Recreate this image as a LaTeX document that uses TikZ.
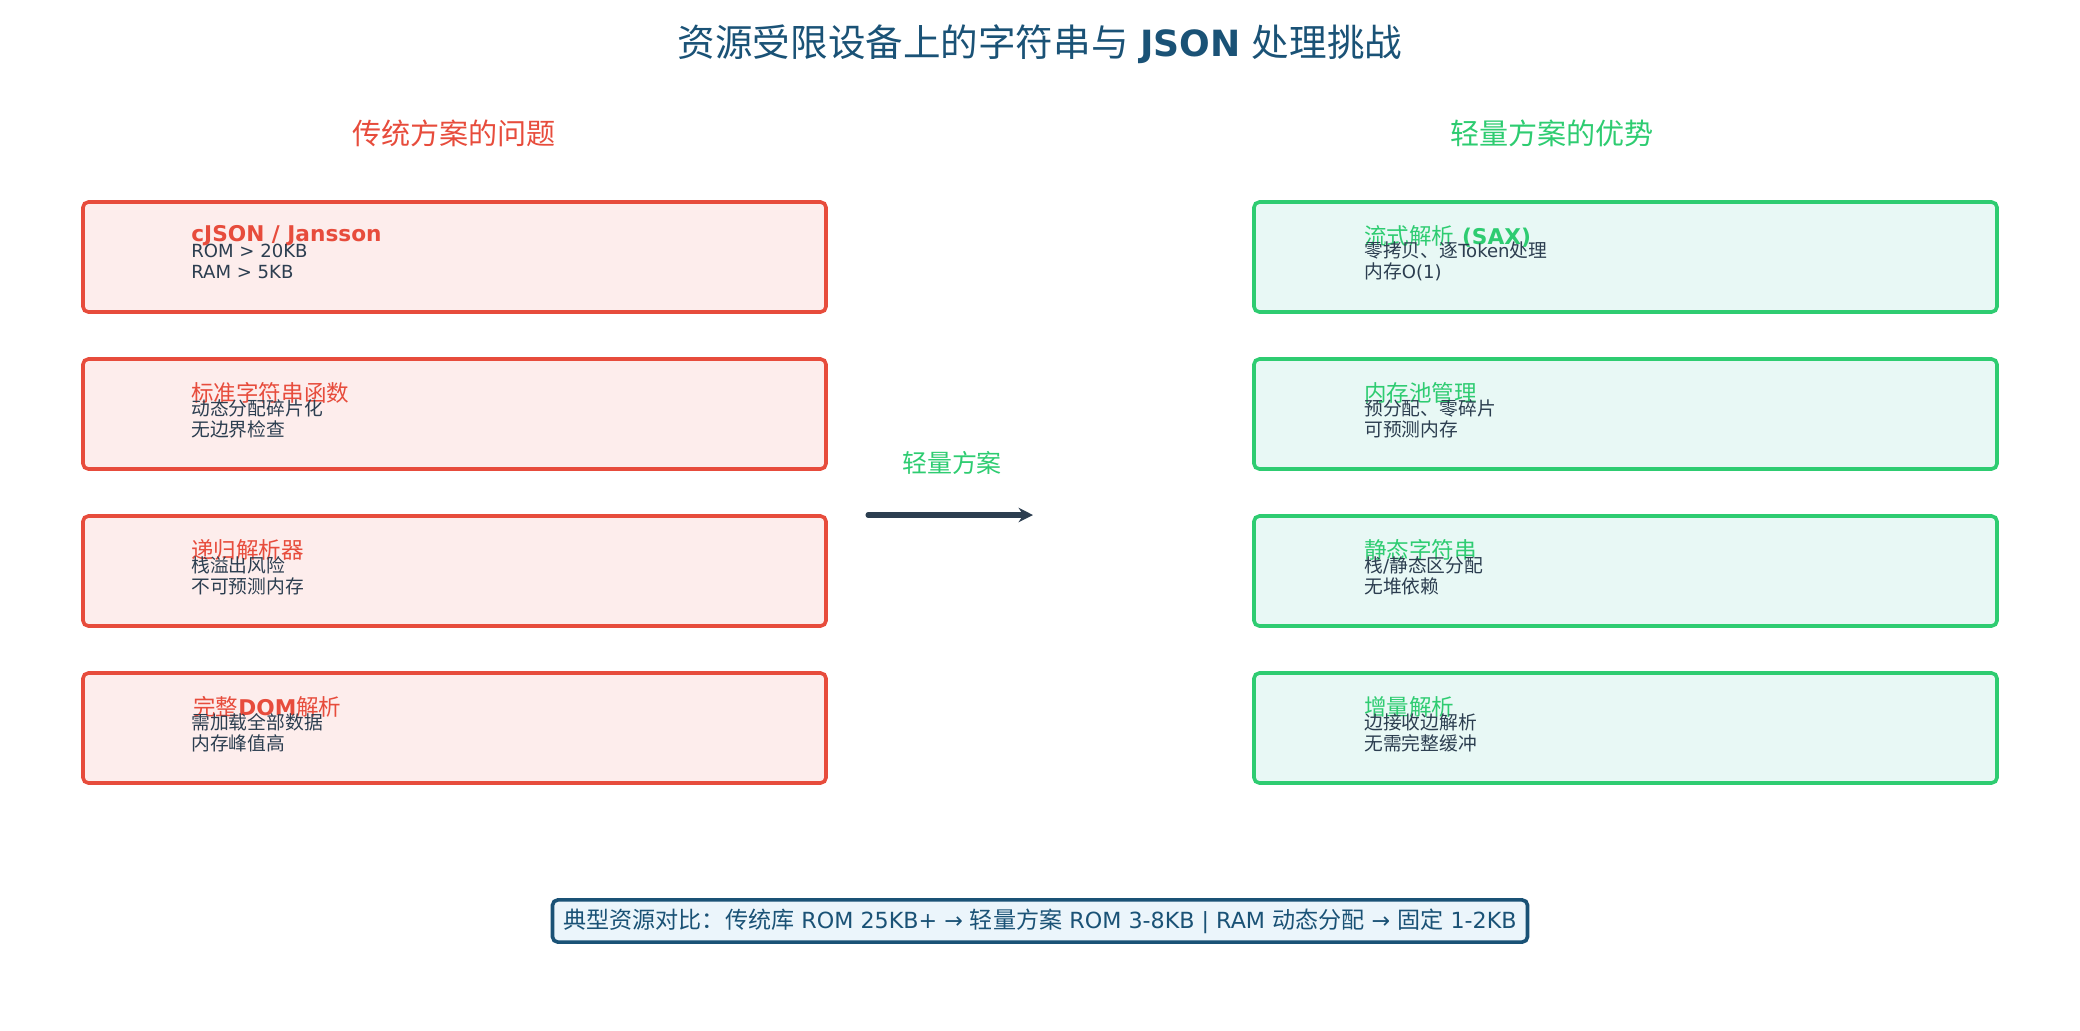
\documentclass[tikz,border=0pt]{standalone}
\usepackage{fontspec}
\setmainfont{DejaVu Sans}
\newfontfamily\cjk[Scale=1.04]{Noto Sans CJK SC}
\usetikzlibrary{arrows.meta}
\definecolor{badred}{HTML}{E74C3C}
\definecolor{badfill}{HTML}{FDEDEC}
\definecolor{goodgreen}{HTML}{2ECC71}
\definecolor{goodfill}{HTML}{E8F8F5}
\definecolor{inkdark}{HTML}{2C3E50}
\definecolor{navy}{HTML}{1A5276}
\definecolor{navyfill}{HTML}{EBF5FB}
\newcommand{\zh}[1]{{\cjk\mdseries #1}}
\begin{document}
\begin{tikzpicture}[x=0.5538pt,y=-0.5538pt,
  badbox/.style={draw=badred,fill=badfill,line width=2pt,rounded corners=3pt,
    minimum width=411.5pt,minimum height=60.9pt,inner sep=0pt},
  goodbox/.style={badbox,draw=goodgreen,fill=goodfill},
  badhead/.style={anchor=west,inner sep=0pt,text=badred,font=\fontsize{12}{14}\selectfont\bfseries},
  goodhead/.style={badhead,text=goodgreen},
  subtxt/.style={anchor=west,inner sep=0pt,align=left,text=inkdark,font=\fontsize{10}{11.6}\selectfont},
  flow/.style={-{Stealth[length=8pt,width=8pt]},line width=2.8pt,line cap=round,draw=inkdark}]
  \useasboundingbox (0,0) rectangle (2080,1030);
  \node[text=navy,font=\fontsize{20}{24}\selectfont] (title) at (1040,44)
    {\zh{资源受限设备上的字符串与} \textbf{JSON} \zh{处理挑战}};
  \node[text=badred,font=\fontsize{15.5}{18}\selectfont] (lefthead) at (454,133) {\zh{传统方案的问题}};
  \node[text=goodgreen,font=\fontsize{15.5}{18}\selectfont] (righthead) at (1552,133) {\zh{轻量方案的优势}};

  \node[badbox] (p1) at (454.5,257) {};
  \node[badhead] (p1t) at (191,236) {cJSON / Jansson};
  \node[subtxt] (p1d) at (191,261.5) {ROM > 20KB\\RAM > 5KB};
  \node[badbox] (p2) at (454.5,414) {};
  \node[badhead] (p2t) at (191,393) {\zh{标准字符串函数}};
  \node[subtxt] (p2d) at (191,418.5) {\zh{动态分配碎片化}\\\zh{无边界检查}};
  \node[badbox] (p3) at (454.5,571) {};
  \node[badhead] (p3t) at (191,550) {\zh{递归解析器}};
  \node[subtxt] (p3d) at (191,575.5) {\zh{栈溢出风险}\\\zh{不可预测内存}};
  \node[badbox] (p4) at (454.5,728) {};
  \node[badhead] (p4t) at (193,707) {\zh{完整}DOM\zh{解析}};
  \node[subtxt] (p4d) at (191,732.5) {\zh{需加载全部数据}\\\zh{内存峰值高}};

  \node[goodbox] (g1) at (1625.5,257) {};
  \node[goodhead] (g1t) at (1364,236) {\zh{流式解析} (SAX)};
  \node[subtxt] (g1d) at (1364,261.5) {\zh{零拷贝、逐}Token\zh{处理}\\\zh{内存}O(1)};
  \node[goodbox] (g2) at (1625.5,414) {};
  \node[goodhead] (g2t) at (1364,393) {\zh{内存池管理}};
  \node[subtxt] (g2d) at (1364,418.5) {\zh{预分配、零碎片}\\\zh{可预测内存}};
  \node[goodbox] (g3) at (1625.5,571) {};
  \node[goodhead] (g3t) at (1364,550) {\zh{静态字符串}};
  \node[subtxt] (g3d) at (1364,575.5) {\zh{栈}/\zh{静态区分配}\\\zh{无堆依赖}};
  \node[goodbox] (g4) at (1625.5,728) {};
  \node[goodhead] (g4t) at (1364,707) {\zh{增量解析}};
  \node[subtxt] (g4d) at (1364,732.5) {\zh{边接收边解析}\\\zh{无需完整缓冲}};

  \coordinate (from) at (868,515);
  \coordinate (to) at (1033,515);
  \draw[flow] (from) -- (to);
  \node[text=goodgreen,font=\fontsize{13.3}{16}\selectfont] (via) at (952,463) {\zh{轻量方案}};

  \node[draw=navy,fill=navyfill,line width=2pt,rounded corners=3pt,text=navy,
    font=\fontsize{12.3}{14}\selectfont,minimum width=540pt,minimum height=23.4pt] (summary) at (1040,921)
    {\zh{典型资源对比：传统库} ROM 25KB+ → \zh{轻量方案} ROM 3-8KB | RAM \zh{动态分配} → \zh{固定} 1-2KB};
\end{tikzpicture}
\end{document}
